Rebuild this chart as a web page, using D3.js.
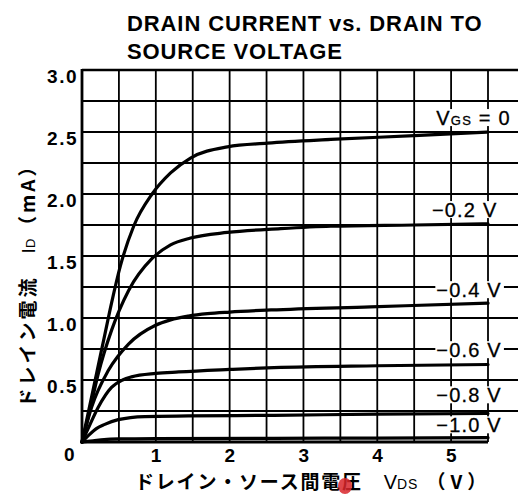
<!DOCTYPE html>
<html>
<head>
<meta charset="utf-8">
<script src="https://cdn.jsdelivr.net/npm/d3@7"></script>
<style>
  body { margin: 0; background: #fff; }
  svg { display: block; }
  .tick-label { font-family: "Liberation Sans", Arial, sans-serif; font-weight: bold; font-size: 19px; letter-spacing: 1.5px; }
  .curve-label { font-family: "Liberation Sans", Arial, sans-serif; font-size: 20px; letter-spacing: 1.2px; stroke: #000; stroke-width: 0.3px; }
  .jp { font-family: "Noto Sans CJK JP", sans-serif; font-weight: bold; }
  .lat { font-family: "Liberation Sans", Arial, sans-serif; }
</style>
</head>
<body>
<div id="container"></div>
<script>

// gate voltage series (V, mA)
var vgs0V  = [0, 0.1, 0.2, 0.3, 0.4, 0.52, 0.7, 0.95, 1.2, 1.47, 1.97, 2.51, 3.37, 4.5, 5.5]
var vgs0I  = [0, 0.28, 0.56, 0.84, 1.12, 1.42, 1.74, 2.0, 2.17, 2.29, 2.38, 2.41, 2.44, 2.47, 2.50]

var vgs02V = [0, 0.1, 0.22, 0.40, 0.63, 0.95, 1.2, 1.47, 1.97, 2.69, 3.37, 4.5, 5.5]
var vgs02I = [0, 0.24, 0.55, 0.90, 1.22, 1.48, 1.59, 1.645, 1.69, 1.72, 1.74, 1.75, 1.76]

var vgs04V = [0, 0.13, 0.36, 0.63, 0.99, 1.2, 1.44, 1.7, 2.0, 2.56, 3.91, 5.5]
var vgs04I = [0, 0.28, 0.58, 0.79, 0.94, 0.985, 1.015, 1.035, 1.048, 1.065, 1.09, 1.12]

var vgs06V = [0, 0.1, 0.22, 0.40, 0.55, 0.67, 1.0, 1.31, 2.0, 2.6, 4.0, 5.5]
var vgs06I = [0, 0.13, 0.28, 0.44, 0.50, 0.525, 0.553, 0.565, 0.585, 0.60, 0.615, 0.625]

var vgs08V = [0, 0.1, 0.2, 0.3, 0.49, 0.85, 1.44, 2.6, 4.0, 5.5]
var vgs08I = [0, 0.06, 0.11, 0.14, 0.18, 0.205, 0.21, 0.215, 0.225, 0.23]

var vgs10V = [0, 0.15, 0.3, 0.5, 1.0, 2.6, 4.0, 5.5]
var vgs10I = [0, 0.01, 0.02, 0.025, 0.028, 0.03, 0.032, 0.035]

var xTicks = [1, 2, 3, 4, 5]
var yTicks = [0.5, 1.0, 1.5, 2.0, 2.5, 3.0]
var curveNames = ["0", "−0.2 V", "−0.4 V", "−0.6 V", "−0.8 V", "−1.0 V"]

// define dimensions
var width = 518
var height = 496

var x = d3.scaleLinear().domain([0, 5.5]).range([82, 488])
var y = d3.scaleLinear().domain([0, 3]).range([442, 70])

var svg = d3.select("#container")
	.append("svg")
	.attr("width", width)
	.attr("height", height);

// grid: vertical every 0.5 V, horizontal every 0.25 mA running off the right edge
var gridX = d3.range(0.5, 5.51, 0.5)
var gridY = d3.range(0.25, 3.01, 0.25)

svg.append("g")
	.selectAll("line")
	.data(gridX)
	.enter()
	.append("line")
	.attr("x1", function(d){ return x(d) })
	.attr("x2", function(d){ return x(d) })
	.attr("y1", y(3))
	.attr("y2", y(0))
	.attr("stroke", "#000")
	.attr("stroke-width", 1.8)

svg.append("g")
	.selectAll("line")
	.data(gridY)
	.enter()
	.append("line")
	.attr("x1", x(0))
	.attr("x2", width)
	.attr("y1", function(d){ return y(d) })
	.attr("y2", function(d){ return y(d) })
	.attr("stroke", "#000")
	.attr("stroke-width", function(d){ return d == 3 ? 2.4 : 1.8 })

// axis frame left and bottom
svg.append("line")
	.attr("x1", x(0)).attr("x2", x(0))
	.attr("y1", y(3) - 1).attr("y2", y(0) + 1.5)
	.attr("stroke", "#000").attr("stroke-width", 2.8)

svg.append("line")
	.attr("x1", x(0)).attr("x2", x(5.5))
	.attr("y1", y(0)).attr("y2", y(0))
	.attr("stroke", "#000").attr("stroke-width", 3)

// curves
var series = [
	[vgs0V, vgs0I], [vgs02V, vgs02I], [vgs04V, vgs04I],
	[vgs06V, vgs06I], [vgs08V, vgs08I], [vgs10V, vgs10I]
]

var line = d3.line()
	.x(function(d){ return x(d[0]) })
	.y(function(d){ return y(d[1]) })
	.curve(d3.curveMonotoneX)

svg.append("g")
	.selectAll("path")
	.data(series)
	.enter()
	.append("path")
	.attr("d", function(s){ return line(d3.zip(s[0], s[1])) })
	.attr("fill", "none")
	.attr("stroke", "#000")
	.attr("stroke-width", 3.2)
	.attr("stroke-linecap", "round")

// curve labels with white boxes over the grid (baseline in mA units)
var labelPos = [[4.8, 2.556], [4.74, 1.814], [4.8, 1.168], [4.8, 0.684], [4.8, 0.32], [4.8, 0.078]]

var labels = svg.append("g")

curveNames.forEach(function(name, i) {
	var g = labels.append("g")
	var t = g.append("text")
		.attr("class", "curve-label")
		.attr("x", x(labelPos[i][0]))
		.attr("y", y(labelPos[i][1]))
	if (i == 0) {
		t.attr("letter-spacing", 0)
		t.append("tspan").text("V")
		t.append("tspan").attr("font-size", 13).text("GS")
		t.append("tspan").text(" = 0")
	} else {
		t.text(name)
	}
	var b = t.node().getBBox()
	g.insert("rect", "text")
		.attr("x", b.x - 1)
		.attr("y", b.y + 2)
		.attr("width", b.width + 3)
		.attr("height", b.height - 5)
		.attr("fill", "#fff")
})

// tick labels
svg.append("g")
	.selectAll("text")
	.data(xTicks)
	.enter()
	.append("text")
	.attr("class", "tick-label")
	.attr("x", function(d){ return x(d) + 1 })
	.attr("y", 462)
	.attr("text-anchor", "middle")
	.text(function(d){ return d })

svg.append("g")
	.selectAll("text")
	.data(yTicks)
	.enter()
	.append("text")
	.attr("class", "tick-label")
	.attr("x", 78)
	.attr("y", function(d){ return y(d) + 13 })
	.attr("text-anchor", "end")
	.text(function(d){ return d.toFixed(1) })

svg.append("text")
	.attr("class", "tick-label")
	.attr("x", 70)
	.attr("y", 461)
	.attr("text-anchor", "middle")
	.text("0")

// title
var title = svg.append("text")
	.attr("font-family", "'Liberation Sans', Arial, sans-serif")
	.attr("font-weight", "bold")
	.attr("font-size", 22)
	.attr("letter-spacing", 0.9)
title.append("tspan").attr("x", 127).attr("y", 31).text("DRAIN CURRENT vs. DRAIN TO")
title.append("tspan").attr("x", 127).attr("y", 59).text("SOURCE VOLTAGE")

// axis titles
var yTitle = svg.append("text")
	.attr("transform", "translate(35,281) rotate(-90)")
	.attr("text-anchor", "middle")
	.attr("font-size", 19)
yTitle.append("tspan").attr("class", "jp").attr("letter-spacing", 3).text("ドレイン電流　")
yTitle.append("tspan").attr("class", "lat").text("I")
yTitle.append("tspan").attr("class", "lat").attr("font-size", 13).text("D ")
yTitle.append("tspan").attr("class", "jp").attr("font-weight", "normal").attr("letter-spacing", 3).text("（mA）")

var xTitle = svg.append("text")
	.attr("x", 135)
	.attr("y", 489)
	.attr("font-size", 19)
xTitle.append("tspan").attr("class", "jp").attr("letter-spacing", 1.8).text("ドレイン・ソース間電圧　")
xTitle.append("tspan").attr("class", "lat").attr("font-size", 20).text("V")
xTitle.append("tspan").attr("class", "lat").attr("font-size", 14).attr("letter-spacing", 1).text("DS")
xTitle.append("tspan").attr("class", "jp").attr("font-weight", "normal").attr("dx", 8).attr("letter-spacing", 5).text("（V）")

// red smudge over the x title in the scan
svg.append("ellipse")
	.attr("cx", 345).attr("cy", 486)
	.attr("rx", 7).attr("ry", 8)
	.attr("fill", "#d8262b")
	.attr("opacity", 0.85)

</script>
</body>
</html>
